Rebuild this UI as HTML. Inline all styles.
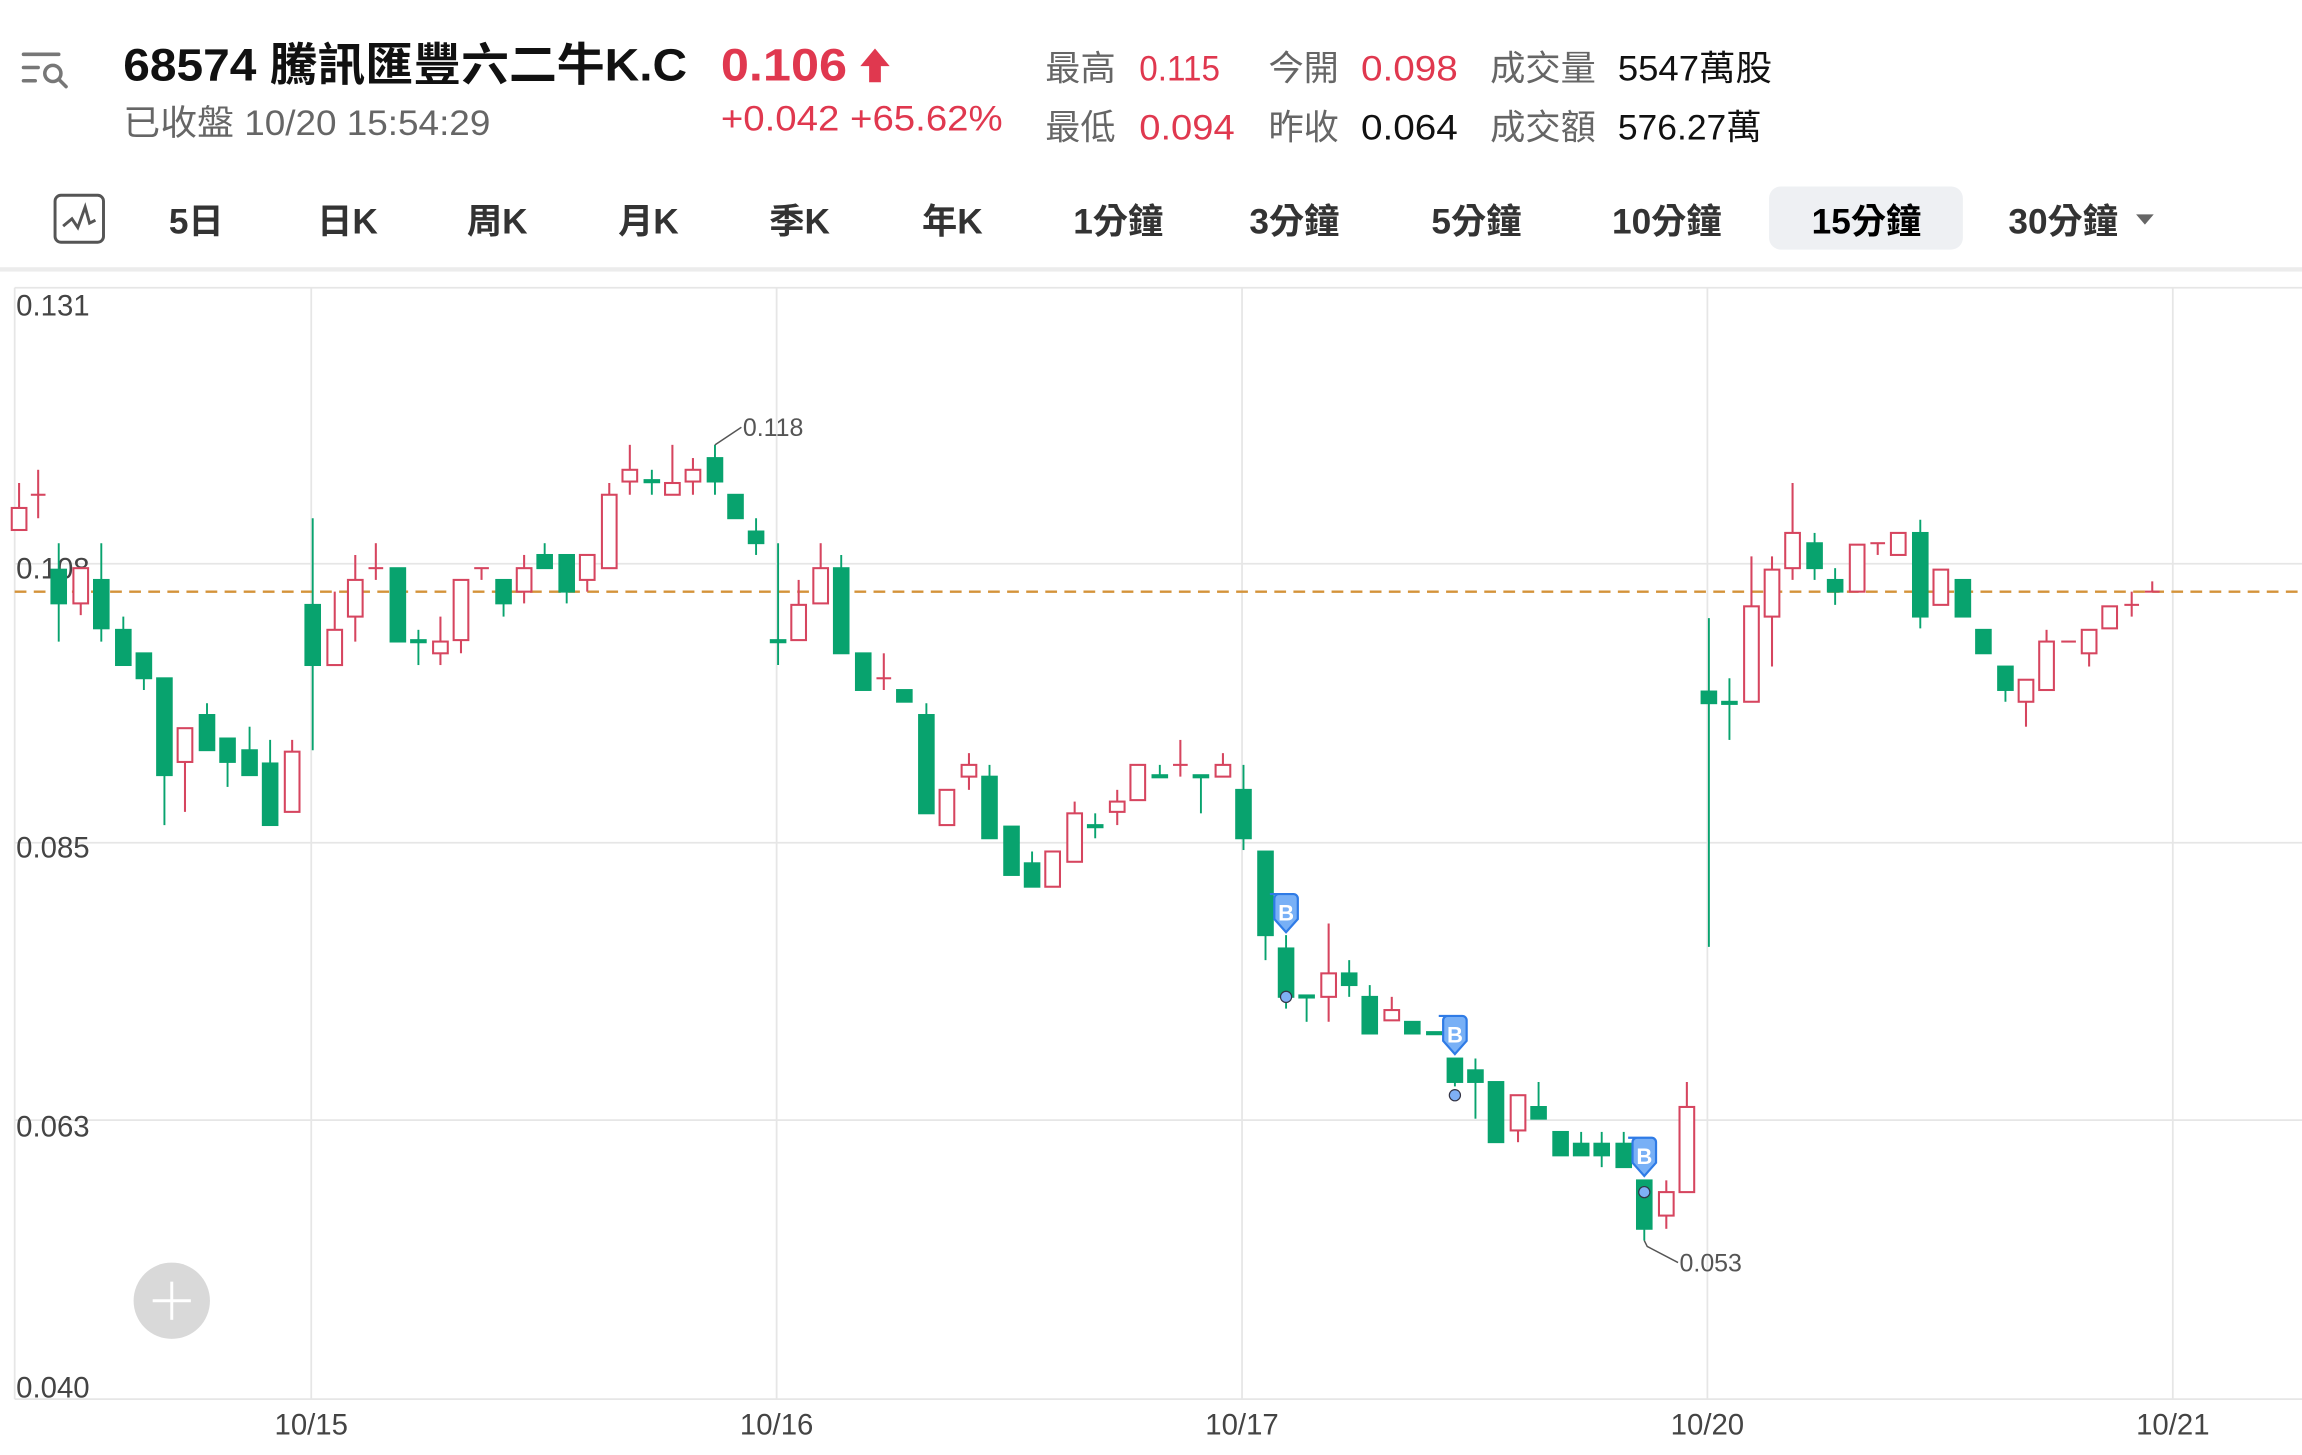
<!DOCTYPE html>
<html><head><meta charset="utf-8">
<style>
html,body{margin:0;padding:0;background:#fff;}
svg{display:block;}
text{font-family:"Liberation Sans","Noto Sans CJK TC",sans-serif;}
</style></head>
<body>
<svg width="2302" height="1455" viewBox="0 0 1568 991.07" preserveAspectRatio="none" xmlns="http://www.w3.org/2000/svg">
<rect width="1568" height="992" fill="#fff"/>
<!-- header -->
<g stroke="#777" stroke-width="2.4" fill="none" stroke-linecap="round">
<line x1="16" y1="37" x2="40" y2="37"/><line x1="16" y1="46" x2="26" y2="46"/><line x1="16" y1="55" x2="24" y2="55"/>
<circle cx="36" cy="50" r="5.5"/><line x1="40" y1="54" x2="45" y2="59"/>
</g>
<text x="84" y="55" font-size="31" font-weight="bold" fill="#111" textLength="384" lengthAdjust="spacingAndGlyphs">68574  騰訊匯豐六二牛K.C</text>
<text x="491" y="55" font-size="31" font-weight="bold" fill="#e0384f" textLength="86" lengthAdjust="spacingAndGlyphs">0.106</text>
<g fill="#e0384f"><polygon points="596,33 606,45 600,45 600,56 592,56 592,45 586,45"/></g>
<text x="84" y="92" font-size="24" fill="#666" textLength="250" lengthAdjust="spacingAndGlyphs">已收盤 10/20 15:54:29</text>
<text x="491" y="89" font-size="24" fill="#e0384f" textLength="192" lengthAdjust="spacingAndGlyphs">+0.042 +65.62%</text>
<g font-size="24">
<text x="712" y="55" fill="#666">最高</text><text x="776" y="55" fill="#e0384f" textLength="55" lengthAdjust="spacingAndGlyphs">0.115</text>
<text x="864" y="55" fill="#666">今開</text><text x="927" y="55" fill="#e0384f" textLength="66" lengthAdjust="spacingAndGlyphs">0.098</text>
<text x="1015" y="55" fill="#666">成交量</text><text x="1102" y="55" fill="#111" textLength="105" lengthAdjust="spacingAndGlyphs">5547萬股</text>
<text x="712" y="95" fill="#666">最低</text><text x="776" y="95" fill="#e0384f" textLength="65" lengthAdjust="spacingAndGlyphs">0.094</text>
<text x="864" y="95" fill="#666">昨收</text><text x="927" y="95" fill="#111" textLength="66" lengthAdjust="spacingAndGlyphs">0.064</text>
<text x="1015" y="95" fill="#666">成交額</text><text x="1102" y="95" fill="#111" textLength="98" lengthAdjust="spacingAndGlyphs">576.27萬</text>
</g>
<!-- tabs -->
<rect x="37.5" y="133" width="33" height="32" rx="4" fill="none" stroke="#555" stroke-width="2"/>
<polyline points="43,154 49,149 53,155 58,141 61,152 65,150" fill="none" stroke="#555" stroke-width="2"/>
<rect x="1205" y="127" width="132" height="43" rx="8" fill="#eef0f3"/>
<g font-size="24" fill="#333" font-weight="bold">
<text x="115" y="159">5日</text><text x="216" y="159">日K</text><text x="318" y="159">周K</text>
<text x="421" y="159">月K</text><text x="524" y="159">季K</text><text x="628" y="159">年K</text>
<text x="731" y="159">1分鐘</text><text x="851" y="159">3分鐘</text><text x="975" y="159">5分鐘</text>
<text x="1098" y="159">10分鐘</text><text x="1234" y="159" fill="#000">15分鐘</text><text x="1368" y="159">30分鐘</text>
</g>
<polygon points="1455,146 1467,146 1461,153" fill="#666"/>
<rect x="0" y="182" width="1568" height="3" fill="#ececec"/>
<!-- grid -->
<g stroke="#e6e6e6" stroke-width="1.2">
<line x1="10" y1="196" x2="1568" y2="196"/><line x1="10" y1="384" x2="1568" y2="384"/>
<line x1="10" y1="574" x2="1568" y2="574"/><line x1="10" y1="763" x2="1568" y2="763"/>
<line x1="10" y1="953" x2="1568" y2="953"/>
<line x1="10" y1="196" x2="10" y2="953"/><line x1="212" y1="196" x2="212" y2="953"/>
<line x1="529" y1="196" x2="529" y2="953"/><line x1="846" y1="196" x2="846" y2="953"/>
<line x1="1163" y1="196" x2="1163" y2="953"/><line x1="1480" y1="196" x2="1480" y2="953"/>
</g>
<g font-size="20" fill="#444">
<text x="11" y="215">0.131</text><text x="11" y="394">0.108</text><text x="11" y="584">0.085</text>
<text x="11" y="774">0.063</text><text x="11" y="952">0.040</text>
</g>
<g font-size="20" fill="#444" text-anchor="middle">
<text x="212" y="977">10/15</text><text x="529" y="977">10/16</text><text x="846" y="977">10/17</text>
<text x="1163" y="977">10/20</text><text x="1480" y="977">10/21</text>
</g>
<line x1="10" y1="403" x2="1568" y2="403" stroke="#d4933a" stroke-width="1.6" stroke-dasharray="8 5"/>
<!-- green candles -->
<g fill="#08a36e" stroke="#08a36e" stroke-width="1.3">
<line x1="40" y1="370" x2="40" y2="437"/><rect x="35" y="388" width="10" height="23"/>
<line x1="69" y1="370" x2="69" y2="437"/><rect x="64" y="395" width="10" height="33"/>
<line x1="84" y1="420" x2="84" y2="453"/><rect x="79" y="429" width="10" height="24"/>
<line x1="98" y1="445" x2="98" y2="470"/><rect x="93" y="445" width="10" height="17"/>
<line x1="112" y1="462" x2="112" y2="562"/><rect x="107" y="462" width="10" height="66"/>
<line x1="141" y1="479" x2="141" y2="511"/><rect x="136" y="487" width="10" height="24"/>
<line x1="155" y1="503" x2="155" y2="536"/><rect x="150" y="503" width="10" height="16"/>
<line x1="170" y1="495" x2="170" y2="528"/><rect x="165" y="511" width="10" height="17"/>
<line x1="184" y1="504" x2="184" y2="562"/><rect x="179" y="520" width="10" height="42"/>
<line x1="213" y1="353" x2="213" y2="511"/><rect x="208" y="412" width="10" height="41"/>
<rect x="266" y="387" width="10" height="50"/>
<line x1="285" y1="429" x2="285" y2="453"/><rect x="280" y="436" width="10" height="1.5"/>
<line x1="343" y1="395" x2="343" y2="420"/><rect x="338" y="395" width="10" height="16"/>
<line x1="371" y1="370" x2="371" y2="387"/><rect x="366" y="378" width="10" height="9"/>
<line x1="386" y1="378" x2="386" y2="411"/><rect x="381" y="378" width="10" height="25"/>
<line x1="444" y1="320" x2="444" y2="337"/><rect x="439" y="327" width="10" height="1.5"/>
<line x1="487" y1="303" x2="487" y2="337"/><rect x="482" y="312" width="10" height="16"/>
<rect x="496" y="337" width="10" height="16"/>
<line x1="515" y1="353" x2="515" y2="378"/><rect x="510" y="362" width="10" height="8"/>
<line x1="530" y1="370" x2="530" y2="453"/><rect x="525" y="436" width="10" height="1.5"/>
<line x1="573" y1="378" x2="573" y2="445"/><rect x="568" y="387" width="10" height="58"/>
<rect x="583" y="445" width="10" height="25"/>
<rect x="611" y="470" width="10" height="8"/>
<line x1="631" y1="479" x2="631" y2="554"/><rect x="626" y="487" width="10" height="67"/>
<line x1="674" y1="521" x2="674" y2="571"/><rect x="669" y="529" width="10" height="42"/>
<rect x="684" y="563" width="10" height="33"/>
<line x1="703" y1="580" x2="703" y2="604"/><rect x="698" y="588" width="10" height="16"/>
<line x1="746" y1="554" x2="746" y2="571"/><rect x="741" y="562" width="10" height="1.5"/>
<line x1="790" y1="521" x2="790" y2="529"/><rect x="785" y="528" width="10" height="1.5"/>
<line x1="818" y1="529" x2="818" y2="554"/><rect x="813" y="528" width="10" height="1.5"/>
<line x1="847" y1="521" x2="847" y2="579"/><rect x="842" y="538" width="10" height="33"/>
<line x1="862" y1="580" x2="862" y2="654"/><rect x="857" y="580" width="10" height="57"/>
<line x1="876" y1="637" x2="876" y2="687"/><rect x="871" y="646" width="10" height="33"/>
<line x1="890" y1="679" x2="890" y2="696"/><rect x="885" y="678" width="10" height="1.5"/>
<line x1="919" y1="654" x2="919" y2="679"/><rect x="914" y="663" width="10" height="8"/>
<line x1="933" y1="671" x2="933" y2="704"/><rect x="928" y="679" width="10" height="25"/>
<rect x="957" y="696" width="10" height="8"/>
<rect x="972" y="703" width="10" height="1.5"/>
<line x1="991" y1="721" x2="991" y2="740"/><rect x="986" y="721" width="10" height="16"/>
<line x1="1005" y1="721" x2="1005" y2="762"/><rect x="1000" y="729" width="10" height="8"/>
<rect x="1014" y="737" width="10" height="41"/>
<line x1="1048" y1="737" x2="1048" y2="762"/><rect x="1043" y="754" width="10" height="8"/>
<rect x="1058" y="771" width="10" height="16"/>
<line x1="1077" y1="771" x2="1077" y2="787"/><rect x="1072" y="779" width="10" height="8"/>
<line x1="1091" y1="771" x2="1091" y2="795"/><rect x="1086" y="779" width="10" height="8"/>
<line x1="1106" y1="771" x2="1106" y2="795"/><rect x="1101" y="779" width="10" height="16"/>
<line x1="1120" y1="804" x2="1120" y2="845"/><rect x="1115" y="804" width="10" height="33"/>
<line x1="1164" y1="421" x2="1164" y2="645"/><rect x="1159" y="471" width="10" height="8"/>
<line x1="1178" y1="462" x2="1178" y2="504"/><rect x="1173" y="478" width="10" height="1.5"/>
<line x1="1236" y1="363" x2="1236" y2="395"/><rect x="1231" y="370" width="10" height="17"/>
<line x1="1250" y1="387" x2="1250" y2="412"/><rect x="1245" y="395" width="10" height="8"/>
<line x1="1308" y1="354" x2="1308" y2="428"/><rect x="1303" y="363" width="10" height="57"/>
<rect x="1332" y="395" width="10" height="25"/>
<rect x="1346" y="429" width="10" height="16"/>
<line x1="1366" y1="454" x2="1366" y2="478"/><rect x="1361" y="454" width="10" height="16"/>
</g>
<!-- red candles -->
<g fill="#fff" stroke="#d6455f" stroke-width="1.4">
<line x1="13" y1="329" x2="13" y2="346"/><rect x="8" y="346" width="10" height="15"/>
<line x1="26" y1="320" x2="26" y2="353"/><line x1="21" y1="337" x2="31" y2="337"/>
<line x1="55" y1="387" x2="55" y2="419"/><rect x="50" y="387" width="10" height="24"/>
<line x1="126" y1="496" x2="126" y2="553"/><rect x="121" y="496" width="10" height="23"/>
<line x1="199" y1="504" x2="199" y2="553"/><rect x="194" y="512" width="10" height="41"/>
<line x1="228" y1="403" x2="228" y2="453"/><rect x="223" y="429" width="10" height="24"/>
<line x1="242" y1="378" x2="242" y2="437"/><rect x="237" y="395" width="10" height="25"/>
<line x1="256" y1="370" x2="256" y2="395"/><line x1="251" y1="387" x2="261" y2="387"/>
<line x1="300" y1="420" x2="300" y2="453"/><rect x="295" y="437" width="10" height="8"/>
<line x1="314" y1="395" x2="314" y2="445"/><rect x="309" y="395" width="10" height="41"/>
<line x1="328" y1="387" x2="328" y2="395"/><line x1="323" y1="387" x2="333" y2="387"/>
<line x1="357" y1="378" x2="357" y2="411"/><rect x="352" y="387" width="10" height="16"/>
<line x1="400" y1="378" x2="400" y2="403"/><rect x="395" y="378" width="10" height="17"/>
<line x1="415" y1="329" x2="415" y2="387"/><rect x="410" y="337" width="10" height="50"/>
<line x1="429" y1="303" x2="429" y2="337"/><rect x="424" y="320" width="10" height="8"/>
<line x1="458" y1="303" x2="458" y2="337"/><rect x="453" y="329" width="10" height="8"/>
<line x1="472" y1="312" x2="472" y2="337"/><rect x="467" y="320" width="10" height="8"/>
<line x1="544" y1="395" x2="544" y2="436"/><rect x="539" y="412" width="10" height="24"/>
<line x1="559" y1="370" x2="559" y2="411"/><rect x="554" y="387" width="10" height="24"/>
<line x1="602" y1="445" x2="602" y2="470"/><line x1="597" y1="462" x2="607" y2="462"/>
<rect x="640" y="538" width="10" height="24"/>
<line x1="660" y1="513" x2="660" y2="538"/><rect x="655" y="521" width="10" height="8"/>
<rect x="712" y="580" width="10" height="24"/>
<line x1="732" y1="546" x2="732" y2="587"/><rect x="727" y="554" width="10" height="33"/>
<line x1="761" y1="538" x2="761" y2="562"/><rect x="756" y="546" width="10" height="7"/>
<rect x="770" y="521" width="10" height="24"/>
<line x1="804" y1="504" x2="804" y2="529"/><line x1="799" y1="521" x2="809" y2="521"/>
<line x1="833" y1="513" x2="833" y2="529"/><rect x="828" y="521" width="10" height="8"/>
<line x1="905" y1="629" x2="905" y2="696"/><rect x="900" y="663" width="10" height="16"/>
<line x1="948" y1="679" x2="948" y2="695"/><rect x="943" y="688" width="10" height="7"/>
<line x1="1034" y1="746" x2="1034" y2="778"/><rect x="1029" y="746" width="10" height="24"/>
<line x1="1135" y1="804" x2="1135" y2="837"/><rect x="1130" y="812" width="10" height="16"/>
<line x1="1149" y1="737" x2="1149" y2="812"/><rect x="1144" y="754" width="10" height="58"/>
<line x1="1193" y1="379" x2="1193" y2="478"/><rect x="1188" y="413" width="10" height="65"/>
<line x1="1207" y1="379" x2="1207" y2="454"/><rect x="1202" y="388" width="10" height="32"/>
<line x1="1221" y1="329" x2="1221" y2="395"/><rect x="1216" y="363" width="10" height="24"/>
<rect x="1260" y="371" width="10" height="32"/>
<line x1="1279" y1="370" x2="1279" y2="378"/><line x1="1274" y1="370" x2="1284" y2="370"/>
<rect x="1288" y="363" width="10" height="15"/>
<rect x="1317" y="388" width="10" height="24"/>
<line x1="1380" y1="463" x2="1380" y2="495"/><rect x="1375" y="463" width="10" height="15"/>
<line x1="1394" y1="429" x2="1394" y2="470"/><rect x="1389" y="437" width="10" height="33"/>
<line x1="1404" y1="437" x2="1414" y2="437"/>
<line x1="1423" y1="429" x2="1423" y2="454"/><rect x="1418" y="429" width="10" height="16"/>
<rect x="1432" y="413" width="10" height="15"/>
<line x1="1452" y1="403" x2="1452" y2="420"/><line x1="1447" y1="412" x2="1457" y2="412"/>
<line x1="1466" y1="396" x2="1466" y2="403"/><line x1="1461" y1="403" x2="1471" y2="403"/>
</g>
<!-- annotations -->
<polyline points="487,303 505,291" fill="none" stroke="#555" stroke-width="1"/>
<text x="506" y="297" font-size="17" fill="#555">0.118</text>
<polyline points="1120,845 1122,849 1143,860" fill="none" stroke="#555" stroke-width="1"/>
<text x="1144" y="866" font-size="17" fill="#555">0.053</text>
<!-- B markers -->
<g>
<path d="M868,609 h16 a3,3 0 0 1 3,3 v14 l-8,9 l-8,-9 v-14 a3,3 0 0 1 3,-3z" transform="translate(-3,0)" fill="#78b0f6" stroke="#2f7be6" stroke-width="1.5"/>
<text x="876" y="627" font-size="15" font-weight="bold" fill="#fff" text-anchor="middle">B</text>
<circle cx="876" cy="679" r="3.8" fill="#7fb0f5" stroke="#334" stroke-width="0.8"/>
<path d="M983,692 h16 a3,3 0 0 1 3,3 v14 l-8,9 l-8,-9 v-14 a3,3 0 0 1 3,-3z" transform="translate(-3,0)" fill="#78b0f6" stroke="#2f7be6" stroke-width="1.5"/>
<text x="991" y="710" font-size="15" font-weight="bold" fill="#fff" text-anchor="middle">B</text>
<circle cx="991" cy="746" r="3.8" fill="#7fb0f5" stroke="#334" stroke-width="0.8"/>
<path d="M1112,775 h16 a3,3 0 0 1 3,3 v14 l-8,9 l-8,-9 v-14 a3,3 0 0 1 3,-3z" transform="translate(-3,0)" fill="#78b0f6" stroke="#2f7be6" stroke-width="1.5"/>
<text x="1120" y="793" font-size="15" font-weight="bold" fill="#fff" text-anchor="middle">B</text>
<circle cx="1120" cy="812" r="3.8" fill="#7fb0f5" stroke="#334" stroke-width="0.8"/>
</g>
<!-- plus button -->
<circle cx="117" cy="886" r="26" fill="#d9d9d9"/>
<line x1="104" y1="886" x2="130" y2="886" stroke="#fff" stroke-width="2"/>
<line x1="117" y1="873" x2="117" y2="899" stroke="#fff" stroke-width="2"/>
</svg>
</body></html>
